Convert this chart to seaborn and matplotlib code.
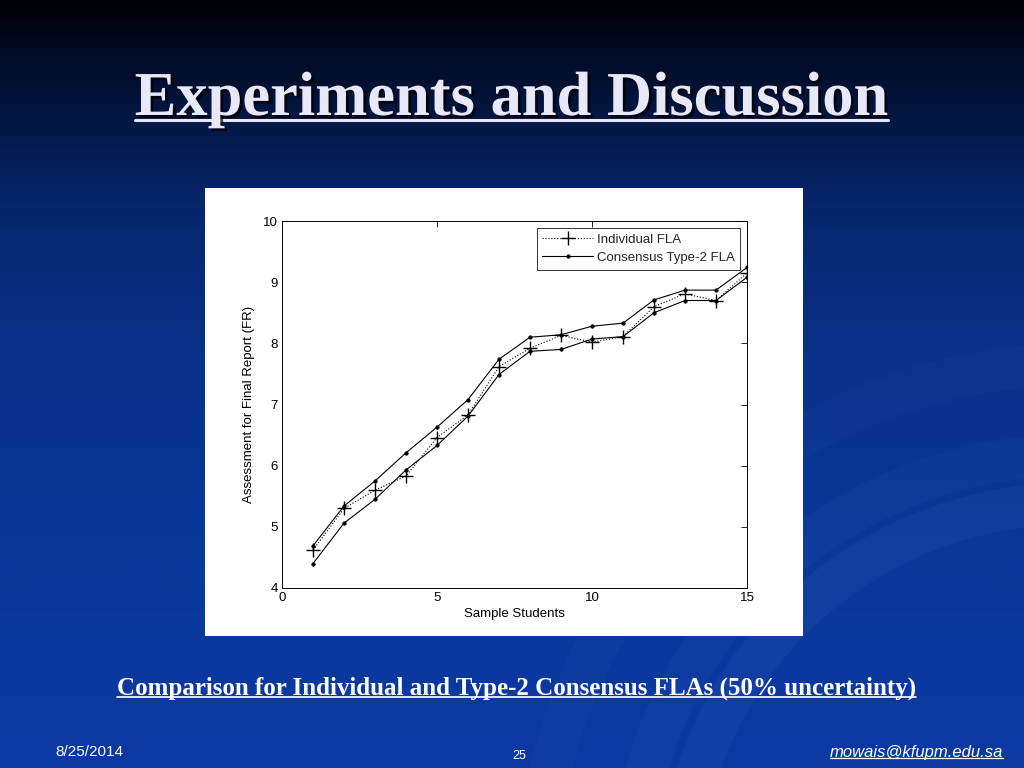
import matplotlib.pyplot as plt
import matplotlib.patheffects as pe
from matplotlib.colors import LinearSegmentedColormap
from matplotlib.lines import Line2D
import seaborn as sns
import numpy as np
import pandas as pd

# data
students = [1, 2, 3, 4, 5, 6, 7, 8, 9, 10, 11, 12, 13, 14, 15]
individual = [4.62, 5.30, 5.60, 5.83, 6.46, 6.83, 7.62, 7.92, 8.13, 8.02, 8.11, 8.60, 8.81, 8.70, 9.15]
consensus_upper = [4.69, 5.34, 5.75, 6.21, 6.63, 7.08, 7.74, 8.10, 8.14, 8.28, 8.33, 8.71, 8.87, 8.87, 9.24]
consensus_lower = [4.40, 5.06, 5.45, 5.93, 6.33, 6.81, 7.49, 7.87, 7.90, 8.07, 8.11, 8.50, 8.70, 8.70, 9.08]

title = "Experiments and Discussion"
caption = "Comparison for Individual and Type-2 Consensus FLAs (50% uncertainty)"

data = pd.DataFrame({"x": students, "ind": individual,
                     "up": consensus_upper, "low": consensus_lower})

sns.set_theme(style="white")
plt.rcParams["font.family"] = ["Liberation Sans", "DejaVu Sans"]

W, H = 1024, 768
fig = plt.figure(figsize=(W / 100, H / 100), dpi=100)

# slide background gradient
bg = fig.add_axes([0, 0, 1, 1])
bg.set_axis_off()
cmap = LinearSegmentedColormap.from_list("slide", [
    (0.0, "#000008"), (0.02, "#00040f"), (0.10, "#021030"),
    (0.25, "#072468"), (0.45, "#0a3188"), (0.70, "#0b379a"), (1.0, "#0b3aa2")])
grad = np.linspace(0, 1, 400).reshape(-1, 1)
bg.imshow(grad, aspect="auto", cmap=cmap, extent=[0, 1, 0, 1], origin="upper")
# faint swooshes on the right
th = np.linspace(0, np.pi, 200)
for r, a in [(0.55, 0.07), (0.62, 0.05), (0.75, 0.04)]:
    bg.plot(1.05 + r * np.cos(th) * 0.7, -0.15 + r * np.sin(th) * 0.9,
            color="#6a8ee0", alpha=a, lw=30, solid_capstyle="round")
bg.set_xlim(0, 1)
bg.set_ylim(0, 1)

# white chart panel
panel = fig.add_axes([205 / W, 1 - 636 / H, 598 / W, 448 / H])
panel.set_facecolor("white")
panel.set_xticks([])
panel.set_yticks([])
for s in panel.spines.values():
    s.set_visible(False)

ax = fig.add_axes([282 / W, 1 - 588 / H, 465 / W, 367 / H])
ax.set_facecolor("white")

sns.lineplot(data=data, x="x", y="ind", ax=ax, color="black", lw=0.8,
             linestyle=":", marker="+", markersize=10, markeredgewidth=1.0,
             markeredgecolor="black", label="Individual FLA")
sns.lineplot(data=data, x="x", y="up", ax=ax, color="black", lw=0.8,
             marker="o", markersize=2.5, markeredgecolor="black",
             markeredgewidth=0.5, label="Consensus Type-2 FLA")
sns.lineplot(data=data, x="x", y="low", ax=ax, color="black", lw=0.8,
             marker="o", markersize=2.5, markeredgecolor="black",
             markeredgewidth=0.5, legend=False)

ax.set_xlim(0, 15)
ax.set_ylim(4, 10)
ax.set_xticks([0, 5, 10, 15])
ax.set_yticks([4, 5, 6, 7, 8, 9, 10])
ax.tick_params(direction="in", length=4, width=0.6, top=True, right=True,
               labelsize=9.5, colors="black", pad=3)
for s in ax.spines.values():
    s.set_color("black")
    s.set_linewidth(0.7)
ax.set_xlabel("Sample Students", fontsize=9.5, color="black", labelpad=3)
ax.set_ylabel("Assessment for Final Report (FR)", fontsize=9.5, color="black", labelpad=6)
leg = ax.legend(loc="upper right", fontsize=9.5, frameon=True, fancybox=False,
                edgecolor="black", borderaxespad=0.5, handlelength=3.8,
                borderpad=0.45, labelspacing=0.45, handletextpad=0.3)
leg.get_frame().set_linewidth(0.7)

# slide texts
serif = ["Liberation Serif", "DejaVu Serif"]
t1 = fig.text(0.4995, 1 - 100 / H, title, ha="center", va="center", fontsize=45,
              family=serif, weight="bold", color="#e8e8f8",
              path_effects=[pe.withSimplePatchShadow(offset=(2, -2), shadow_rgbFace="black", alpha=0.7)])
t2 = fig.text(0.5045, 1 - 688 / H, caption, ha="center", va="center", fontsize=18,
              family=serif, weight="bold", color="white")
fig.text(55 / W, 1 - 752 / H, "8/25/2014", ha="left", va="center", fontsize=11, color="white")
fig.text(519 / W, 1 - 756 / H, "25", ha="center", va="center", fontsize=9, color="white")
t3 = fig.text(1003 / W, 1 - 752 / H, "mowais@kfupm.edu.sa", ha="right", va="center",
              fontsize=12, style="italic", color="white")

# underline the texts
fig.canvas.draw()
renderer = fig.canvas.get_renderer()
for t, off, lw in [(t1, 0.012, 2.2), (t2, 0.004, 1.2), (t3, 0.002, 0.9)]:
    bb = t.get_window_extent(renderer).transformed(fig.transFigure.inverted())
    y = bb.y0 + off
    fig.add_artist(Line2D([bb.x0, bb.x1], [y, y], color=t.get_color(), lw=lw))

fig.savefig("out.png", dpi=100)
